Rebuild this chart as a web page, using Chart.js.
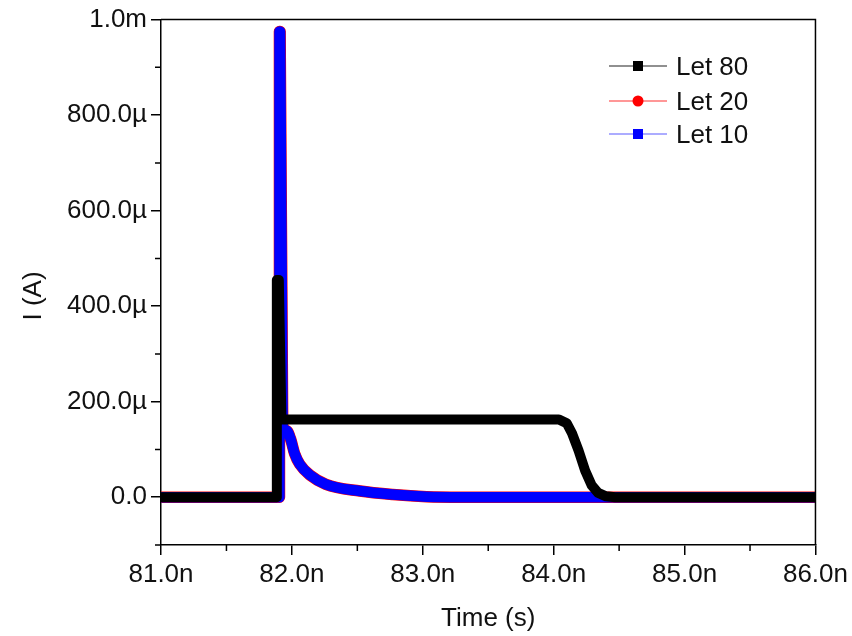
<!DOCTYPE html>
<html>
<head>
<meta charset="utf-8">
<script src="https://cdn.jsdelivr.net/npm/chart.js@4.4.1/dist/chart.umd.min.js"></script>
<style>
  html, body { margin: 0; padding: 0; background: #fff; }
  canvas { display: block; }
</style>
</head>
<body>
<canvas id="pulse" width="852" height="636"></canvas>
<script>
// time in ns, current in µA
const timeL80 = [81.0, 81.86, 81.885, 81.885, 81.9, 81.92, 84.04, 84.1, 84.14, 84.19, 84.24, 84.29, 84.34, 84.4, 84.47, 86.0];
const currL80 = [0, 0, 0, 455, 455, 163, 163, 155, 134, 98, 56, 25, 9, 2, 0, 0];

const timeL20 = [81.0, 81.88, 81.905, 81.905, 81.91, 81.93, 81.96, 81.99, 82.02, 82.06, 82.14, 82.26, 82.52, 82.77, 83.03, 83.3, 86.0];
const currL20 = [0, 0, 0, 975, 975, 140, 139, 122, 92, 69, 46, 27, 13, 5.6, 1, 0, 0];

const timeL10 = [81.0, 81.88, 81.905, 81.905, 81.91, 81.93, 81.96, 81.99, 82.02, 82.06, 82.14, 82.26, 82.52, 82.77, 83.03, 83.3, 86.0];
const currL10 = [0, 0, 0, 975, 975, 140, 139, 122, 92, 69, 46, 27, 13, 5.6, 1, 0, 0];

const xTicks = [81, 82, 83, 84, 85, 86];
const yTicks = [0, 200, 400, 600, 800, 1000];
const xMinor = [81.5, 82.5, 83.5, 84.5, 85.5];
const yMinor = [-100, 100, 300, 500, 700, 900];

const seriesNames = ['Let 80', 'Let 20', 'Let 10'];

const pts = (xs, ys) => xs.map((x, i) => ({ x: x, y: ys[i] }));

const FONT = '"Liberation Sans", Arial, sans-serif';

function fmtY(v) {
  if (v === 0) return '0.0';
  if (v >= 1000) return (v / 1000).toFixed(1) + 'm';
  return v.toFixed(1) + 'µ';
}

// frame on top/right, minor ticks, y title, legend with line-marker-line keys
const framePlugin = {
  id: 'frame',
  afterDraw(chart) {
    const { ctx, chartArea: a, scales } = chart;
    ctx.save();
    ctx.strokeStyle = '#000';
    ctx.lineWidth = 1.5;
    ctx.beginPath();
    ctx.moveTo(a.left, a.top); ctx.lineTo(a.right, a.top); ctx.lineTo(a.right, a.bottom);
    for (const v of xMinor) {
      const px = scales.x.getPixelForValue(v);
      ctx.moveTo(px, a.bottom); ctx.lineTo(px, a.bottom + 6);
    }
    for (const v of yMinor) {
      const py = scales.y.getPixelForValue(v);
      ctx.moveTo(a.left, py); ctx.lineTo(a.left - 6, py);
    }
    ctx.stroke();

    ctx.fillStyle = '#111';
    ctx.font = '26px ' + FONT;
    ctx.textAlign = 'center';
    ctx.textBaseline = 'middle';
    ctx.translate(34, 296);
    ctx.rotate(-Math.PI / 2);
    ctx.fillText('I (A)', 0, 0);
    ctx.setTransform(1, 0, 0, 1, 0, 0);

    // legend
    const rows = [66, 101, 134];
    chart.data.datasets.forEach((ds, i) => {
      const y = rows[i];
      ctx.strokeStyle = ds.legendLine;
      ctx.lineWidth = 1.2;
      ctx.beginPath();
      ctx.moveTo(609, y); ctx.lineTo(667, y);
      ctx.stroke();
      ctx.fillStyle = ds.borderColor;
      if (ds.marker === 'circle') {
        ctx.beginPath();
        ctx.arc(638, y, 5.5, 0, Math.PI * 2);
        ctx.fill();
      } else {
        ctx.fillRect(633, y - 5, 10, 10);
      }
      ctx.fillStyle = '#111';
      ctx.font = '26px ' + FONT;
      ctx.textBaseline = 'middle';
      ctx.textAlign = 'left';
      ctx.fillText(ds.label, 676, y + 2);
    });
    ctx.restore();
  }
};

new Chart(document.getElementById('pulse'), {
  type: 'line',
  data: {
    datasets: [
      {
        label: seriesNames[0], data: pts(timeL80, currL80),
        borderColor: '#000000', legendLine: '#222', marker: 'square',
        borderWidth: 10, order: 0
      },
      {
        label: seriesNames[1], data: pts(timeL20, currL20),
        borderColor: '#ff0000', legendLine: '#ff3030', marker: 'circle',
        borderWidth: 11.5, order: 2, cubicInterpolationMode: 'monotone'
      },
      {
        label: seriesNames[2], data: pts(timeL10, currL10),
        borderColor: '#0000ff', legendLine: '#5a5aff', marker: 'square',
        borderWidth: 10.5, order: 1, cubicInterpolationMode: 'monotone'
      }
    ]
  },
  options: {
    responsive: false,
    animation: false,
    events: [],
    datasets: {
      line: {
        pointRadius: 0,
        borderCapStyle: 'round', borderJoinStyle: 'round'
      }
    },
    layout: { padding: { left: 10, right: 35, top: 19, bottom: 0 } },
    plugins: { legend: { display: false }, tooltip: { enabled: false } },
    scales: {
      x: {
        type: 'linear', min: 81, max: 86,
        afterBuildTicks: s => { s.ticks = xTicks.map(v => ({ value: v })); },
        afterFit: s => { s.height = 91; },
        ticks: {
          callback: v => v.toFixed(1) + 'n',
          font: { family: FONT, size: 26 }, color: '#111', padding: 4, maxRotation: 0
        },
        grid: { drawOnChartArea: false, drawTicks: true, tickLength: 10, color: '#000', lineWidth: 1.5 },
        border: { display: true, color: '#000', width: 1.5 },
        title: {
          display: true, text: 'Time (s)', color: '#111',
          font: { family: FONT, size: 26 }, padding: { top: 2, bottom: 2 }
        }
      },
      y: {
        type: 'linear', min: -100, max: 1000,
        afterBuildTicks: s => { s.ticks = yTicks.map(v => ({ value: v })); },
        afterFit: s => { s.width = 151; },
        ticks: {
          callback: v => fmtY(v),
          font: { family: FONT, size: 26 }, color: '#111', padding: 4
        },
        grid: { drawOnChartArea: false, drawTicks: true, tickLength: 10, color: '#000', lineWidth: 1.5 },
        border: { display: true, color: '#000', width: 1.5 }
      }
    }
  },
  plugins: [framePlugin]
});
</script>
</body>
</html>
